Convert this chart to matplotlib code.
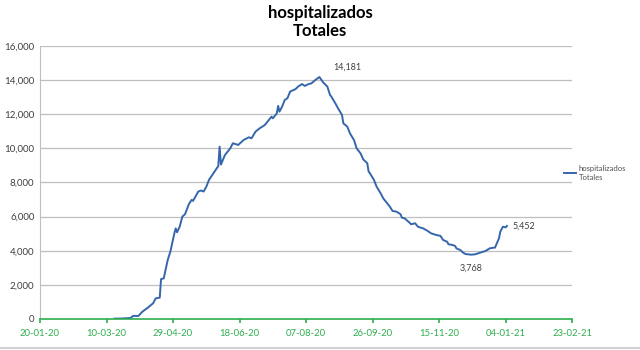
import numpy as np
import pandas as pd
import matplotlib
matplotlib.use("Agg")
import matplotlib.pyplot as plt
import matplotlib.dates as mdates
from matplotlib.lines import Line2D

# days counted from 20-01-20 and hospitalised totals read on those days
start = "2020-01-20"
days = [56, 62, 68, 70, 74, 77, 81, 85, 87, 90, 91, 93, 96, 98, 101, 102, 103,
        105, 107, 109, 112, 114, 115, 119, 121, 123, 125, 127, 130, 133, 134,
        135, 136, 139, 143, 145, 149, 153, 157, 159, 162, 165, 169, 172, 174,
        175, 178, 179, 180, 182, 184, 186, 188, 192, 194, 197, 199, 202, 204,
        207, 210, 213, 216, 218, 219, 222, 224, 227, 228, 231, 233, 236, 238,
        241, 243, 246, 247, 248, 251, 253, 256, 258, 261, 263, 265, 268, 271,
        272, 274, 277, 279, 282, 284, 288, 291, 294, 298, 301, 303, 306, 307,
        310, 312, 313, 316, 318, 320, 322, 324, 327, 331, 335, 338, 341, 342,
        345, 346, 348, 350, 351]
hosp = [20, 30, 60, 180, 180, 430, 660, 920, 1210, 1250, 2340, 2380, 3460,
        3950, 5020, 5310, 5080, 5410, 6000, 6140, 6750, 6980, 6920, 7470, 7530,
        7470, 7750, 8150, 8500, 8850, 8950, 10100, 9050, 9610, 10000, 10300,
        10200, 10490, 10650, 10590, 10980, 11170, 11370, 11660, 11860, 11760,
        12050, 12490, 12150, 12450, 12840, 12940, 13330, 13470, 13620, 13770,
        13660, 13770, 13810, 14010, 14181, 13850, 13620, 13130, 13030, 12640,
        12350, 11960, 11470, 11270, 10880, 10490, 10000, 9700, 9350, 9130,
        8640, 8540, 8150, 7760, 7370, 7070, 6780, 6580, 6330, 6290, 6140, 5940,
        5900, 5700, 5550, 5610, 5410, 5310, 5180, 5020, 4920, 4870, 4630, 4530,
        4380, 4340, 4280, 4140, 4040, 3890, 3800, 3790, 3768, 3790, 3890, 3990,
        4140, 4180, 4180, 4730, 5120, 5410, 5370, 5452]

tick_days = np.arange(0, 401, 50)
y_ticks = np.arange(0, 16001, 2000)

t0 = pd.Timestamp(start)
dates = t0 + pd.to_timedelta(days, unit="D")
tick_dates = t0 + pd.to_timedelta(tick_days, unit="D")

plt.rcParams["font.family"] = ["Lato", "DejaVu Sans"]

fig = plt.figure(figsize=(6.4, 3.5), dpi=100)
ax = fig.add_axes([0.0625, 0.0886, 0.8315, 0.78])

blue = "#3566AC"
green = "#2EAE4E"

ax.plot(dates, hosp, color=blue, lw=1.4, label="hospitalizados\nTotales")

ax.set_xlim(tick_dates[0], tick_dates[-1])
ax.set_ylim(0, 16000)
ax.set_xticks(tick_dates)
ax.xaxis.set_major_formatter(mdates.DateFormatter("%d-%m-%y"))
ax.set_yticks(y_ticks)
ax.set_yticklabels([f"{v:,}" for v in y_ticks])

ax.grid(axis="y", color="#BFBFBF", lw=0.9)
ax.set_axisbelow(True)
for s in ["top", "right"]:
    ax.spines[s].set_visible(False)
ax.spines["left"].set_color("#BFBFBF")
ax.spines["bottom"].set_color(green)
ax.spines["bottom"].set_linewidth(1.2)
ax.tick_params(axis="y", length=0, labelsize=7, colors="#404040", pad=4)
ax.tick_params(axis="x", length=3, width=1.2, color=green, labelsize=6.8,
               labelcolor=green, pad=4)

# value labels at the peak, the trough and the last day
i_max = int(np.argmax(hosp))
i_min = i_max + int(np.argmin(hosp[i_max:]))
ax.annotate(f"{hosp[i_max]:,}", (dates[i_max], hosp[i_max]), xytext=(20, 7),
            textcoords="offset points", ha="center", va="center", fontsize=6.5,
            color="#404040")
ax.annotate(f"{hosp[i_min]:,}", (dates[i_min], hosp[i_min]), xytext=(0, -10),
            textcoords="offset points", ha="center", va="center", fontsize=6.5,
            color="#404040")
ax.annotate(f"{hosp[-1]:,}", (dates[-1], hosp[-1]), xytext=(4, 0),
            textcoords="offset points", ha="left", va="center", fontsize=6.5,
            color="#404040")

fig.text(0.5, 0.985, "hospitalizados\nTotales", ha="center", va="top",
         fontsize=12, fontweight="bold", linespacing=1.15)

ax.legend(loc="center left", bbox_to_anchor=(0.985, 0.535), frameon=False,
          fontsize=5.5, handlelength=1.6, handletextpad=0.3, borderpad=0,
          borderaxespad=0, labelcolor="#505050")

fig.add_artist(Line2D([0, 1], [0.006, 0.006], color="#C8C8C8", lw=1.2))

fig.savefig("out.png", dpi=100)
